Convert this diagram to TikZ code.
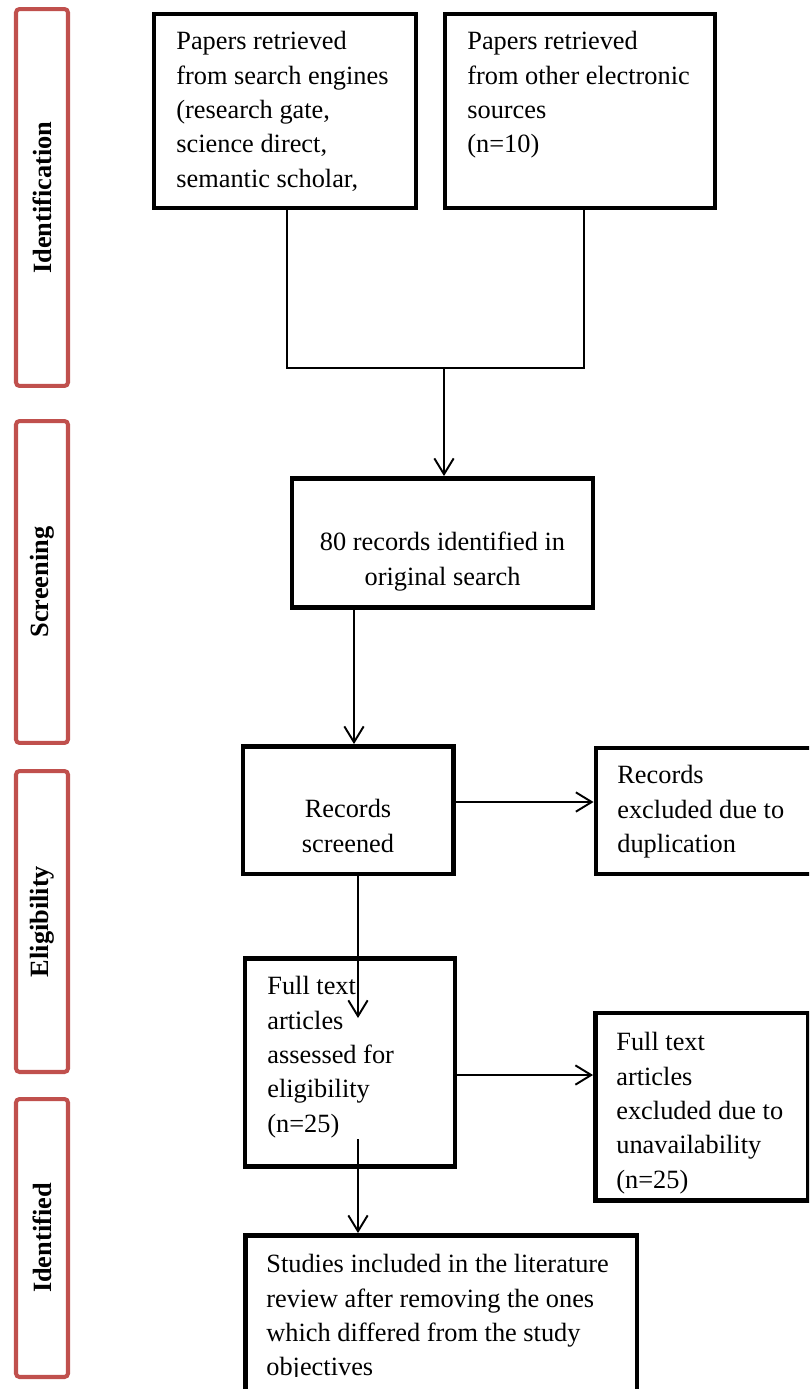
\documentclass[tikz,border=0pt]{standalone}
\usepackage{fontspec}
\setmainfont{Liberation Serif}
\usetikzlibrary{arrows.meta,fit}
\definecolor{phasered}{HTML}{C0504D}

\begin{document}
\begin{tikzpicture}[x=0.02cm, y=-0.02cm,
	box/.style={draw, line width=2.8pt, inner sep=0pt},
	txt/.style={inner sep=0pt, font=\fontsize{15}{19.6}\selectfont},
	phase/.style={draw=phasered, line width=2.3pt, rounded corners=2pt, rotate=90, minimum height=1.04cm, inner sep=0pt, font=\fontsize{15}{18}\selectfont\bfseries},
	link/.style={line width=0.9pt},
	arrow/.style={line width=1.1pt, -{Straight Barb[length=9pt,width=11pt]}}]
			\useasboundingbox (0,0) rectangle (809,1389);
			\clip (0,0) rectangle (809,1389);
			\node[phase, minimum width=7.54cm] (ident) at (42,197.5) {Identification};
			\node[phase, minimum width=6.44cm] (screen) at (42,582) {Screening};
			\node[phase, minimum width=6.02cm] (elig) at (42,921.5) {Eligibility};
			\node[phase, minimum width=5.56cm] (identd) at (42,1238) {Identified};
			\node[box, fit={(154,14) (416,208)}] (srch) {};
			\node[box, fit={(445,14) (715,208)}] (othr) {};
			\node[box, fit={(292,478.5) (593,607.5)}] (orig) {};
			\node[box, fit={(243,746.5) (453.5,874)}] (scr) {};
			\node[box, fit={(596,748) (860,874)}] (dup) {};
			\node[box, fit={(245,958.5) (455,1166.5)}] (full) {};
			\node[box, fit={(595.5,1013) (808,1200.5)}] (unav) {};
			\node[box, fit={(245.5,1235.5) (637,1430)}] (incl) {};
			\node[txt, align=left, anchor=north west] (srchtxt) at (176,31) {Papers retrieved\\from search engines\\(research gate,\\science direct,\\semantic scholar,};
			\node[txt, align=left, anchor=north west] (othrtxt) at (467,31) {Papers retrieved\\from other electronic\\sources\\(n=10)};
			\node[txt, align=center, anchor=north] (origtxt) at (442.5,532) {80 records identified in\\original search};
			\node[txt, align=center, anchor=north] (scrtxt) at (348,799) {Records\\screened};
			\node[txt, align=left, anchor=north west] (duptxt) at (617,765) {Records\\excluded due to\\duplication};
			\node[txt, align=left, anchor=north west] (fulltxt) at (267,976) {Full text\\articles\\assessed for\\eligibility\\(n=25)};
			\node[txt, align=left, anchor=north west] (unavtxt) at (616,1032) {Full text\\articles\\excluded due to\\unavailability\\(n=25)};
			\begin{scope}
			\clip (250,1240) rectangle (632,1376.5);
			\node[txt, align=left, anchor=north west] (incltxt) at (266,1254) {Studies included in the literature\\review after removing the ones\\which differed from the study\\objectives};
			\end{scope}
			\coordinate (jl) at (287,368);
			\coordinate (jr) at (584,368);
			\coordinate (jm) at (444,368);
			\coordinate (c1) at (354,0);
			\coordinate (c2) at (358,0);
			\coordinate (r1) at (0,802);
			\coordinate (r2) at (0,1075);
			\coordinate (ftip) at (358,1018);
			\coordinate (fout) at (358,1139);
			\draw[link] (srch.south -| jl) -- (jl) -- (jr) -- (othr.south -| jr);
			\draw[arrow] (jm) -- (orig.north -| jm);
			\draw[arrow] (orig.south -| c1) -- (scr.north -| c1);
			\draw[arrow] (scr.east |- r1) -- (dup.west |- r1);
			\draw[arrow] (scr.south -| c2) -- (ftip);
			\draw[arrow] (full.east |- r2) -- (unav.west |- r2);
			\draw[arrow] (fout) -- (incl.north -| fout);
			\end{tikzpicture}
\end{document}
